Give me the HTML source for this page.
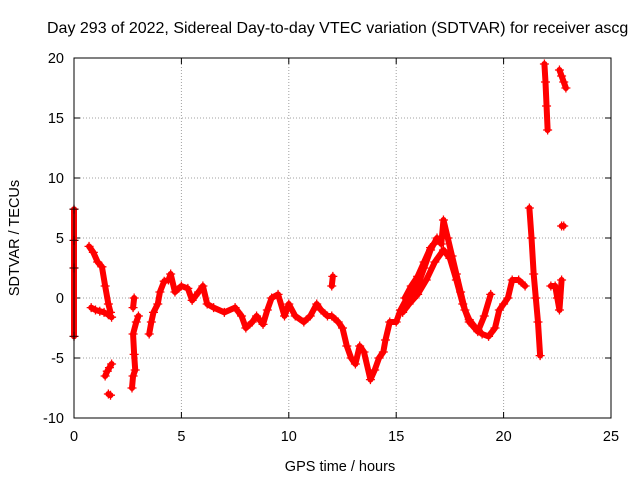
<!DOCTYPE html>
<html><head><meta charset="utf-8"><style>
body{margin:0;background:#fff;width:640px;height:480px;overflow:hidden}
svg{font-family:"Liberation Sans",sans-serif}
</style></head><body>
<svg id="chart" width="640" height="480" xmlns="http://www.w3.org/2000/svg">
<text x="47" y="33" font-size="16" fill="#000">Day 293 of 2022, Sidereal Day-to-day VTEC variation (SDTVAR) for receiver ascg</text>
<g id="grid"></g>
<g id="ticks"></g>
<g id="marks"></g>
<rect x="74" y="58" width="537" height="360" fill="none" stroke="#000" stroke-width="1"/>
<text transform="translate(19,238) rotate(-90)" text-anchor="middle" font-size="14.5">SDTVAR / TECUs</text>
<text x="340" y="471" text-anchor="middle" font-size="14.5">GPS time / hours</text>
</svg>
<script>
const xTicks=[0,5,10,15,20,25];
const yTicks=[-10,-5,0,5,10,15,20];
const trackA_hours=[0,0,0,0];
const trackA_vals=[7.4,4.8,2.5,-3.2];
const trackB_hours=[0.7,0.9,1.1,1.3,1.45,1.6,1.7];
const trackB_vals=[4.3,3.8,3.0,2.6,1.0,-0.5,-1.2];
const trackC_hours=[0.8,1.0,1.2,1.4,1.6,1.75];
const trackC_vals=[-0.8,-1.0,-1.1,-1.2,-1.4,-1.6];
const trackD_hours=[1.45,1.55,1.65,1.75];
const trackD_vals=[-6.5,-6.1,-5.8,-5.5];
const trackE_hours=[1.6,1.7];
const trackE_vals=[-8.0,-8.1];
const trackF_hours=[2.7,2.75,2.85,2.8,2.75,2.9,3.0];
const trackF_vals=[-7.5,-6.5,-6.0,-4.7,-3.0,-2.0,-1.5];
const trackG_hours=[2.75,2.8];
const trackG_vals=[-0.8,0.0];
const trackH_hours=[3.5,3.6,3.7,3.9,4.0,4.2,4.4,4.5,4.7,5.0,5.3,5.5,5.8,6.0,6.2,6.5,7.0,7.5,7.8,8.0,8.3,8.5,8.8,9.0,9.2,9.5,9.8,10.0,10.3,10.7,11.0,11.3,11.5,11.8,12.0,12.3,12.5,12.7,12.9,13.1,13.3,13.5,13.8,14.0,14.2,14.4,14.5,14.7,15.0,15.2,15.5,15.8,16.0,16.3,16.6,16.9,17.1,17.2,17.4,17.6,17.8,18.0,18.2,18.4,18.7,19.0,19.3,19.6,19.8,20.0,20.2,20.4,20.7,21.0];
const trackH_vals=[-3.0,-2.0,-1.2,-0.5,0.5,1.4,1.5,2.0,0.5,1.0,0.8,-0.2,0.5,1.0,-0.5,-0.8,-1.2,-0.8,-1.5,-2.5,-2.0,-1.5,-2.2,-1.0,0.0,0.3,-1.5,-0.5,-1.5,-2.0,-1.5,-0.5,-1.0,-1.5,-1.5,-2.0,-2.5,-4.0,-5.0,-5.5,-4.0,-4.5,-6.8,-6.0,-5.0,-4.5,-3.5,-2.0,-2.0,-1.0,0.0,0.5,1.0,2.5,4.0,5.0,4.5,6.5,5.0,3.5,2.0,0.5,-1.0,-1.8,-2.5,-3.0,-3.2,-2.5,-1.0,-0.5,0.0,1.5,1.5,1.0];
const trackI_hours=[15.3,15.6,16.0,16.4,16.8,17.2,17.5,17.8,18.1,18.4,18.8,19.1,19.4];
const trackI_vals=[-1.2,-0.5,0.3,1.5,3.0,4.0,3.3,1.5,-0.5,-2.0,-2.8,-1.5,0.3];
const trackP_hours=[15.4,15.7,16.0,16.3,16.6,16.9];
const trackP_vals=[0.0,1.0,1.8,3.0,4.2,4.8];
const trackJ_hours=[12.0,12.05];
const trackJ_vals=[1.0,1.8];
const trackK_hours=[21.2,21.3,21.4,21.5,21.6,21.7];
const trackK_vals=[7.5,5.0,2.0,0.0,-2.0,-4.8];
const trackL_hours=[22.2,22.4,22.5,22.6,22.7];
const trackL_vals=[1.0,1.0,0.0,-1.0,1.5];
const trackM_hours=[22.7,22.8];
const trackM_vals=[6.0,6.0];
const trackN_hours=[21.9,21.95,22.0,22.05];
const trackN_vals=[19.5,18.0,16.0,14.0];
const trackO_hours=[22.6,22.7,22.8,22.9];
const trackO_vals=[19.0,18.5,18.0,17.5];
const tracks=[[trackA_hours,trackA_vals],[trackB_hours,trackB_vals],[trackC_hours,trackC_vals],[trackD_hours,trackD_vals],[trackE_hours,trackE_vals],[trackF_hours,trackF_vals],[trackG_hours,trackG_vals],[trackH_hours,trackH_vals],[trackI_hours,trackI_vals],[trackP_hours,trackP_vals],[trackJ_hours,trackJ_vals],[trackK_hours,trackK_vals],[trackL_hours,trackL_vals],[trackM_hours,trackM_vals],[trackN_hours,trackN_vals],[trackO_hours,trackO_vals]];
const NS="http://www.w3.org/2000/svg";
const X0=74,X1=611,Y0=418,Y1=58,XMIN=0,XMAX=25,YMIN=-10,YMAX=20;
function sx(v){return X0+(v-XMIN)/(XMAX-XMIN)*(X1-X0);}
function sy(v){return Y0-(v-YMIN)/(YMAX-YMIN)*(Y0-Y1);}
function mk(t,a,p){const e=document.createElementNS(NS,t);for(const k in a)e.setAttribute(k,a[k]);p.appendChild(e);return e;}
const grid=document.getElementById('grid'),ticks=document.getElementById('ticks'),marks=document.getElementById('marks');
xTicks.forEach(t=>{const x=sx(t);
 if(t>XMIN&&t<XMAX){const g=mk('line',{x1:x,x2:x,y1:Y1,y2:Y0,stroke:'#a0a0a0','stroke-dasharray':'1,2'},grid);
 
 }
 const l=mk('text',{x:x,y:Y0+23,'text-anchor':'middle','font-size':'14.5'},ticks);l.textContent=t;
 
 
 mk('line',{x1:x,x2:x,y1:Y0,y2:Y0-6,stroke:'#000'},ticks);mk('line',{x1:x,x2:x,y1:Y1,y2:Y1+6,stroke:'#000'},ticks);});
yTicks.forEach(t=>{const y=sy(t);
 if(t>YMIN&&t<YMAX){const g=mk('line',{x1:X0,x2:X1,y1:y,y2:y,stroke:'#a0a0a0','stroke-dasharray':'1,2'},grid);
 
 }
 const l=mk('text',{x:X0-10,y:y+5,'text-anchor':'end','font-size':'14.5'},ticks);l.textContent=t;
 
 
 mk('line',{x1:X0,x2:X0+6,y1:y,y2:y,stroke:'#000'},ticks);mk('line',{x1:X1,x2:X1-6,y1:y,y2:y,stroke:'#000'},ticks);});
tracks.forEach(([hs,vs],i)=>{
 const pts=hs.map((h,j)=>sx(h)+','+sy(vs[j])).join(' ');
 const pl=mk('polyline',{points:pts,fill:'none',stroke:'#f00','stroke-width':6,'stroke-linejoin':'round','stroke-linecap':'round'},marks);
 
 
 hs.forEach((h,j)=>{const x=sx(h),y=sy(vs[j]);
  const p=mk('path',{d:`M${x-4.5},${y}H${x+4.5}M${x},${y-4.5}V${y+4.5}`,stroke:(i===0?'#600':'#f00'),'stroke-width':1.3},marks);
  
  });
});
</script>
</body></html>
